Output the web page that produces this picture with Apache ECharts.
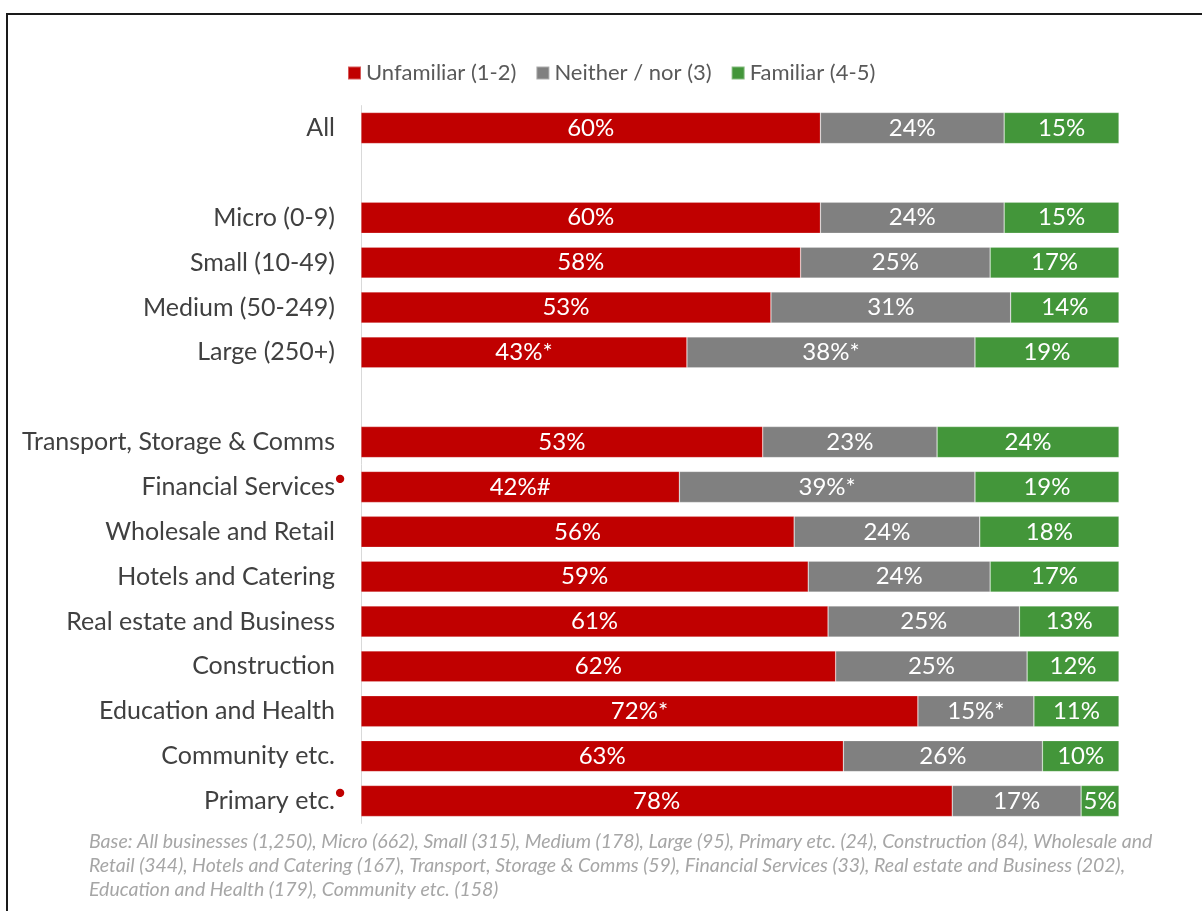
<!DOCTYPE html>
<html>
<head>
<meta charset="utf-8">
<script src="https://cdn.jsdelivr.net/npm/echarts@6/dist/echarts.min.js"></script>
<style>
  html, body { margin: 0; padding: 0; background: #fff; overflow: hidden; }
  #frame { position: absolute; left: 6px; top: 13px; width: 1300px; height: 1000px; border: 2px solid #1a1a1a; }
  #chart { position: absolute; left: 0; top: 0; width: 1202px; height: 911px; }
</style>
</head>
<body>
<div id="frame"></div>
<div id="chart"></div>
<script>
// Rows of the chart; empty strings are spacer rows between groups
const categories = ['All', '', 'Micro (0-9)', 'Small (10-49)', 'Medium (50-249)', 'Large (250+)', '',
  'Transport, Storage & Comms', 'Financial Services', 'Wholesale and Retail', 'Hotels and Catering',
  'Real estate and Business', 'Construction', 'Education and Health', 'Community etc.', 'Primary etc.'];

const unfamiliar = [60, null, 60, 58, 53, 43, null, 53, 42, 56, 59, 61, 62, 72, 63, 78];
const neither    = [24, null, 24, 25, 31, 38, null, 23, 39, 24, 24, 25, 25, 15, 26, 17];
const familiar   = [15, null, 15, 17, 14, 19, null, 24, 19, 18, 17, 13, 12, 11, 10, 5];

// Significance markers appended to value labels
const unfamiliarNote = ['', '', '', '', '', '*', '', '', '#', '', '', '', '', '*', '', ''];
const neitherNote    = ['', '', '', '', '', '*', '', '', '*', '', '', '', '', '*', '', ''];
const familiarNote   = ['', '', '', '', '', '', '', '', '', '', '', '', '', '', '', ''];

// Low base sizes flagged with a red dot
const flagged = ['Financial Services', 'Primary etc.'];

const seriesNames = ['Unfamiliar (1-2)', 'Neither / nor (3)', 'Familiar (4-5)'];
const colors = ['#C00000', '#808080', '#43963A'];

const footnote = 'Base: All businesses (1,250), Micro (662), Small (315), Medium (178), Large (95), Primary etc. (24), Construction (84), Wholesale and\n' +
  'Retail (344), Hotels and Catering (167), Transport, Storage & Comms (59), Financial Services (33), Real estate and Business (202),\n' +
  'Education and Health (179), Community etc. (158)';

const FONT = 'Lato, "Open Sans", sans-serif';

// 100% stacked: each segment is drawn as its share of the row total
function shares(values, notes) {
  return values.map(function (v, i) {
    if (v == null) return null;
    const total = (unfamiliar[i] || 0) + (neither[i] || 0) + (familiar[i] || 0);
    return { value: v / total * 100, raw: v, note: notes[i] };
  });
}

const groups = [[unfamiliar, unfamiliarNote], [neither, neitherNote], [familiar, familiarNote]];

const chart = echarts.init(document.getElementById('chart'));
chart.setOption({
  animation: false,
  textStyle: { fontFamily: FONT },
  legend: {
    top: 57,
    left: 342,
    itemWidth: 13,
    itemHeight: 13,
    itemGap: 19,
    icon: 'rect',
    textStyle: { fontSize: 22, color: '#595959', fontFamily: FONT },
    data: seriesNames
  },
  grid: { left: 361, right: 83, top: 105.6, bottom: 87.6, containLabel: false },
  xAxis: { type: 'value', min: 0, max: 100, show: false },
  yAxis: {
    type: 'category',
    inverse: true,
    data: categories,
    axisLine: { show: true, lineStyle: { color: '#D9D9D9', width: 1 } },
    axisTick: { show: false },
    axisLabel: {
      margin: 16,
      fontSize: 25,
      color: '#404040',
      fontFamily: FONT,
      // every label reserves a slot after the text; flagged rows put a red dot in it
      formatter: function (name) {
        return '{t|' + name + '}' + (flagged.indexOf(name) >= 0 ? '{d|●}' : '{s|}');
      },
      rich: {
        t: { fontSize: 25, color: '#404040', fontFamily: FONT },
        d: { fontSize: 17, color: '#C00000', verticalAlign: 'top', padding: [0, 0, 16, 0], width: 10, align: 'left' },
        s: { width: 10 }
      }
    }
  },
  series: groups.map(function (g, k) {
    return {
      name: seriesNames[k],
      type: 'bar',
      stack: 'total',
      barWidth: 31,
      itemStyle: { color: colors[k], borderColor: 'rgba(255,255,255,0.35)', borderWidth: 0.6 },
      label: {
        show: true,
        position: 'inside',
        color: '#FFFFFF',
        fontSize: 24,
        fontFamily: FONT,
        formatter: function (p) { return p.data.raw + '%' + p.data.note; }
      },
      data: shares(g[0], g[1])
    };
  }),
  graphic: [{
    type: 'text',
    left: 89,
    top: 830,
    style: {
      text: footnote,
      fontSize: 19.5,
      fontStyle: 'italic',
      lineHeight: 24,
      fill: '#A6A6A6',
      fontFamily: FONT
    }
  }]
});
</script>
</body>
</html>
